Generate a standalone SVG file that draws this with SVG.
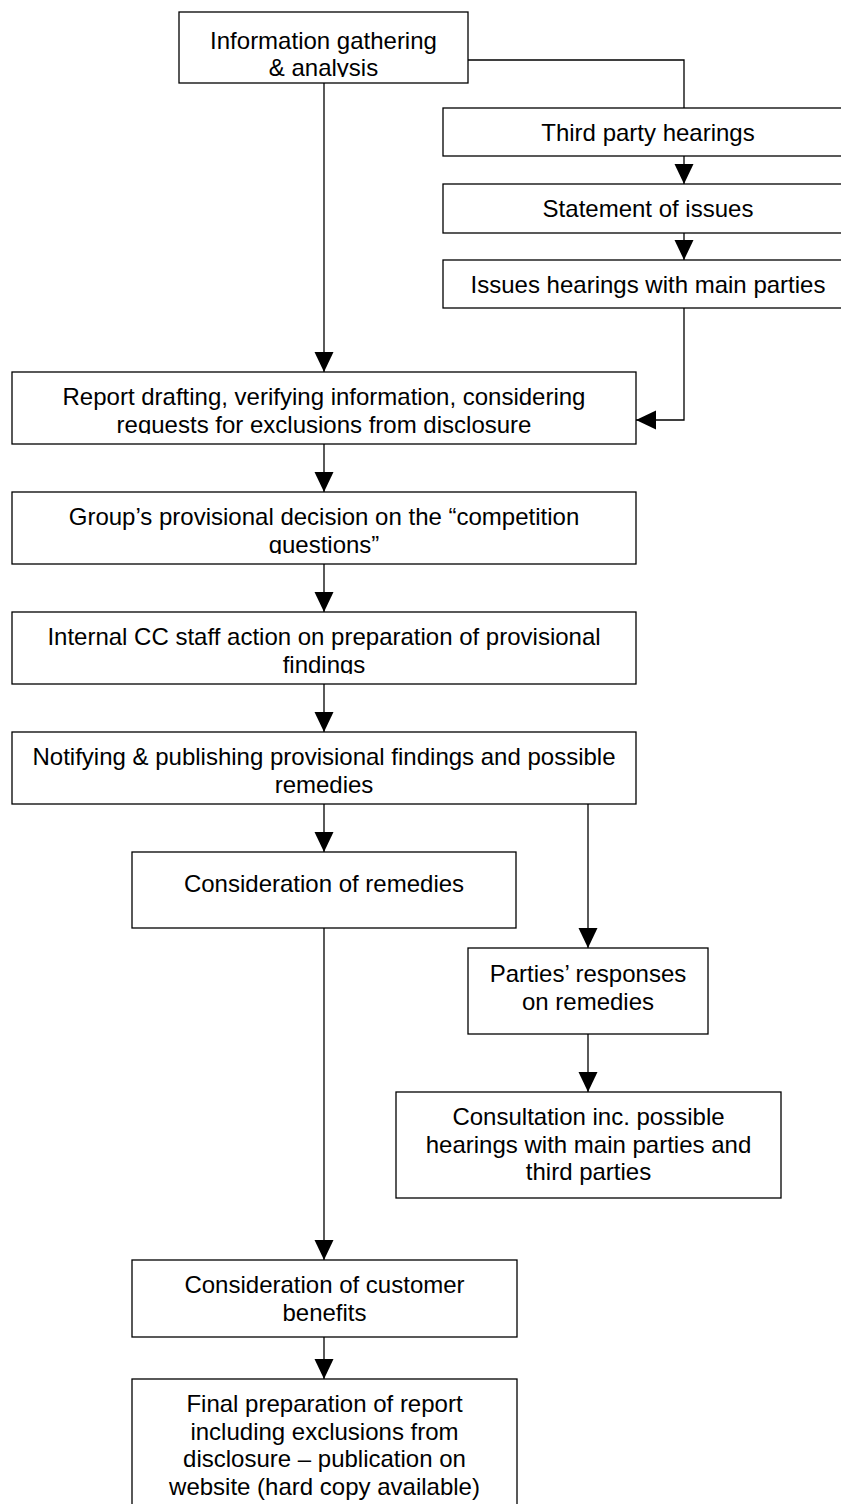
<svg xmlns="http://www.w3.org/2000/svg" width="841" height="1504" viewBox="0 0 841 1504">
<style>
.box{fill:#fff;stroke:#000;stroke-width:1.3}
.t{font-family:"Liberation Sans",Arial,sans-serif;font-size:24px;fill:#000;text-anchor:middle}
.c{fill:none;stroke:#000;stroke-width:1.3}
</style>
<defs>
<marker id="ah" markerUnits="userSpaceOnUse" markerWidth="21" markerHeight="20" refX="20" refY="9.5" orient="auto">
<path d="M0,0 L20,9.5 L0,19 z" fill="#000"/>
</marker>
<clipPath id="c1"><rect x="179" y="12" width="289" height="65"/></clipPath>
<clipPath id="c2"><rect x="12" y="372" width="624" height="62"/></clipPath>
<clipPath id="c3"><rect x="12" y="492" width="624" height="62"/></clipPath>
<clipPath id="c4"><rect x="12" y="612" width="624" height="62"/></clipPath>
<clipPath id="c5"><rect x="12" y="732" width="624" height="62"/></clipPath>
</defs>
<rect width="841" height="1504" fill="#fff"/>
<g id="connectors">
<path class="c" d="M324,83 V372" marker-end="url(#ah)"/>
<path class="c" d="M468,60 H684 V108"/>
<path class="c" d="M684,156 V184" marker-end="url(#ah)"/>
<path class="c" d="M684,233 V260" marker-end="url(#ah)"/>
<path class="c" d="M684,308 V420 H636" marker-end="url(#ah)"/>
<path class="c" d="M324,444 V492" marker-end="url(#ah)"/>
<path class="c" d="M324,564 V612" marker-end="url(#ah)"/>
<path class="c" d="M324,684 V732" marker-end="url(#ah)"/>
<path class="c" d="M324,804 V852" marker-end="url(#ah)"/>
<path class="c" d="M588,804 V948" marker-end="url(#ah)"/>
<path class="c" d="M324,928 V1260" marker-end="url(#ah)"/>
<path class="c" d="M588,1034 V1092" marker-end="url(#ah)"/>
<path class="c" d="M324,1337 V1379" marker-end="url(#ah)"/>
</g>
<g id="n1">
<rect class="box" x="179" y="12" width="289" height="71"/>
<g clip-path="url(#c1)"><text class="t" x="323.5" y="48.5">Information gathering</text><text class="t" x="323.5" y="75.5">&amp; analysis</text></g>
</g>
<g id="n2">
<rect class="box" x="443" y="108" width="410" height="48"/>
<text class="t" x="648" y="141">Third party hearings</text>
</g>
<g id="n3">
<rect class="box" x="443" y="184" width="410" height="49"/>
<text class="t" x="648" y="217">Statement of issues</text>
</g>
<g id="n4">
<rect class="box" x="443" y="260" width="410" height="48"/>
<text class="t" x="648" y="293">Issues hearings with main parties</text>
</g>
<g id="n5">
<rect class="box" x="12" y="372" width="624" height="72"/>
<g clip-path="url(#c2)"><text class="t" x="324" y="405">Report drafting, verifying information, considering</text><text class="t" x="324" y="432.5">requests for exclusions from disclosure</text></g>
</g>
<g id="n6">
<rect class="box" x="12" y="492" width="624" height="72"/>
<g clip-path="url(#c3)"><text class="t" x="324" y="525">Group’s provisional decision on the “competition</text><text class="t" x="324" y="552.5">questions”</text></g>
</g>
<g id="n7">
<rect class="box" x="12" y="612" width="624" height="72"/>
<g clip-path="url(#c4)"><text class="t" x="324" y="645">Internal CC staff action on preparation of provisional</text><text class="t" x="324" y="672.5">findings</text></g>
</g>
<g id="n8">
<rect class="box" x="12" y="732" width="624" height="72"/>
<g clip-path="url(#c5)"><text class="t" x="324" y="765">Notifying &amp; publishing provisional findings and possible</text><text class="t" x="324" y="792.5">remedies</text></g>
</g>
<g id="n9">
<rect class="box" x="132" y="852" width="384" height="76"/>
<text class="t" x="324" y="892">Consideration of remedies</text>
</g>
<g id="n10">
<rect class="box" x="468" y="948" width="240" height="86"/>
<text class="t" x="588" y="982">Parties’ responses</text>
<text class="t" x="588" y="1009.5">on remedies</text>
</g>
<g id="n11">
<rect class="box" x="396" y="1092" width="385" height="106"/>
<text class="t" x="588.5" y="1125">Consultation inc. possible</text>
<text class="t" x="588.5" y="1152.5">hearings with main parties and</text>
<text class="t" x="588.5" y="1180">third parties</text>
</g>
<g id="n12">
<rect class="box" x="132" y="1260" width="385" height="77"/>
<text class="t" x="324.5" y="1293">Consideration of customer</text>
<text class="t" x="324.5" y="1320.5">benefits</text>
</g>
<g id="n13">
<rect class="box" x="132" y="1379" width="385" height="140"/>
<text class="t" x="324.5" y="1412">Final preparation of report</text>
<text class="t" x="324.5" y="1439.5">including exclusions from</text>
<text class="t" x="324.5" y="1467">disclosure – publication on</text>
<text class="t" x="324.5" y="1494.5">website (hard copy available)</text>
</g>
</svg>
